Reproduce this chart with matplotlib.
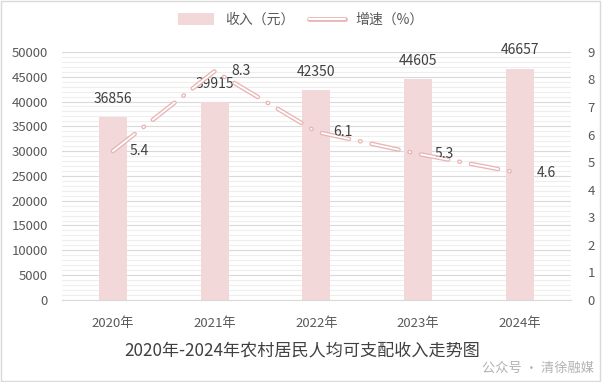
import numpy as np
import matplotlib
matplotlib.use('Agg')
import matplotlib.pyplot as plt
from matplotlib.lines import Line2D
from matplotlib.patches import Rectangle, Patch
from matplotlib.ticker import MultipleLocator

plt.rcParams['font.family'] = ['Noto Sans CJK SC', 'DejaVu Sans']
plt.rcParams['lines.scale_dashes'] = False

# data
years = ['2020年', '2021年', '2022年', '2023年', '2024年']
income = [36856, 39915, 42350, 44605, 46657]
growth = [5.4, 8.3, 6.1, 5.3, 4.6]

bar_color = '#F2D8D8'
line_color = '#E8B5B5'
text_color = '#404040'
tick_color = '#595959'

fig = plt.figure(figsize=(6.02, 3.82), dpi=100)
ax = fig.add_axes([0.103, 0.215, 0.845, 0.649])
ax2 = ax.twinx()

x = np.arange(len(years))

# bars
ax.bar(x, income, width=0.275, color=bar_color, zorder=2)
for xi, v in zip(x, income):
    ax.annotate(f'{v}', (xi, v), xytext=(0, 13), textcoords='offset points',
                ha='center', va='center', fontsize=10, color=text_color)

ax.set_xlim(-0.5, len(years) - 0.5)
ax.set_ylim(0, 50000)
ax.yaxis.set_major_locator(MultipleLocator(5000))
ax.yaxis.set_minor_locator(MultipleLocator(1000))
ax.grid(axis='y', which='major', color='#D9D9D9', lw=0.8, zorder=0)
ax.grid(axis='y', which='minor', color='#EEEEEE', lw=0.8, zorder=0)
ax.set_axisbelow(True)
ax.set_xticks(x)
ax.set_xticklabels(years)
ax.tick_params(axis='x', length=0, pad=12, labelsize=9.5, colors=tick_color)
ax.tick_params(axis='y', which='both', length=0, pad=10, labelsize=9.5, colors=tick_color)

# growth line (hollow, long dash - dot)
dash = (0, (20, 8, 0.5, 8))
ax2.plot(x, growth, color=line_color, lw=3.2, linestyle=dash,
         dash_capstyle='round', solid_capstyle='round', zorder=3)
ax2.plot(x, growth, color='white', lw=1.3, linestyle=dash,
         dash_capstyle='round', zorder=4)
for xi, v in zip(x, growth):
    ax2.annotate(f'{v}', (xi, v), xytext=(12, 0), textcoords='offset points',
                 ha='left', va='center', fontsize=10, color=text_color)

ax2.set_ylim(0, 9)
ax2.yaxis.set_major_locator(MultipleLocator(1))
ax2.tick_params(axis='y', length=0, pad=12, labelsize=9.5, colors=tick_color)

for a in (ax, ax2):
    for s in a.spines.values():
        s.set_visible(False)
ax.spines['bottom'].set_visible(True)
ax.spines['bottom'].set_color('#D9D9D9')

# legend
h_bar = Patch(facecolor=bar_color, edgecolor='none')
h_line = (Line2D([], [], color=line_color, lw=3.5, solid_capstyle='round'),
          Line2D([], [], color='white', lw=1.5, solid_capstyle='round'))
fig.legend([h_bar, h_line], ['收入（元）', '增速（%）'], loc='center',
           bbox_to_anchor=(0.5, 0.948), ncol=2, frameon=False, fontsize=10,
           handlelength=2.6, handleheight=0.9, columnspacing=1.0,
           labelcolor=tick_color)

# title
fig.text(0.502, 0.082, '2020年-2024年农村居民人均可支配收入走势图', ha='center',
         va='center', fontsize=12.3, color=text_color)

# watermark
fig.text(0.80, 0.035, '公众号 · 清徐融媒', ha='left', va='center',
         fontsize=9.5, color='#A0A0A0', alpha=0.8)

# border
fig.patches.append(Rectangle((0.002, 0.003), 0.995, 0.994, transform=fig.transFigure,
                             fill=False, edgecolor='#D9D9D9', lw=1))

fig.savefig('out.png', dpi=100)
